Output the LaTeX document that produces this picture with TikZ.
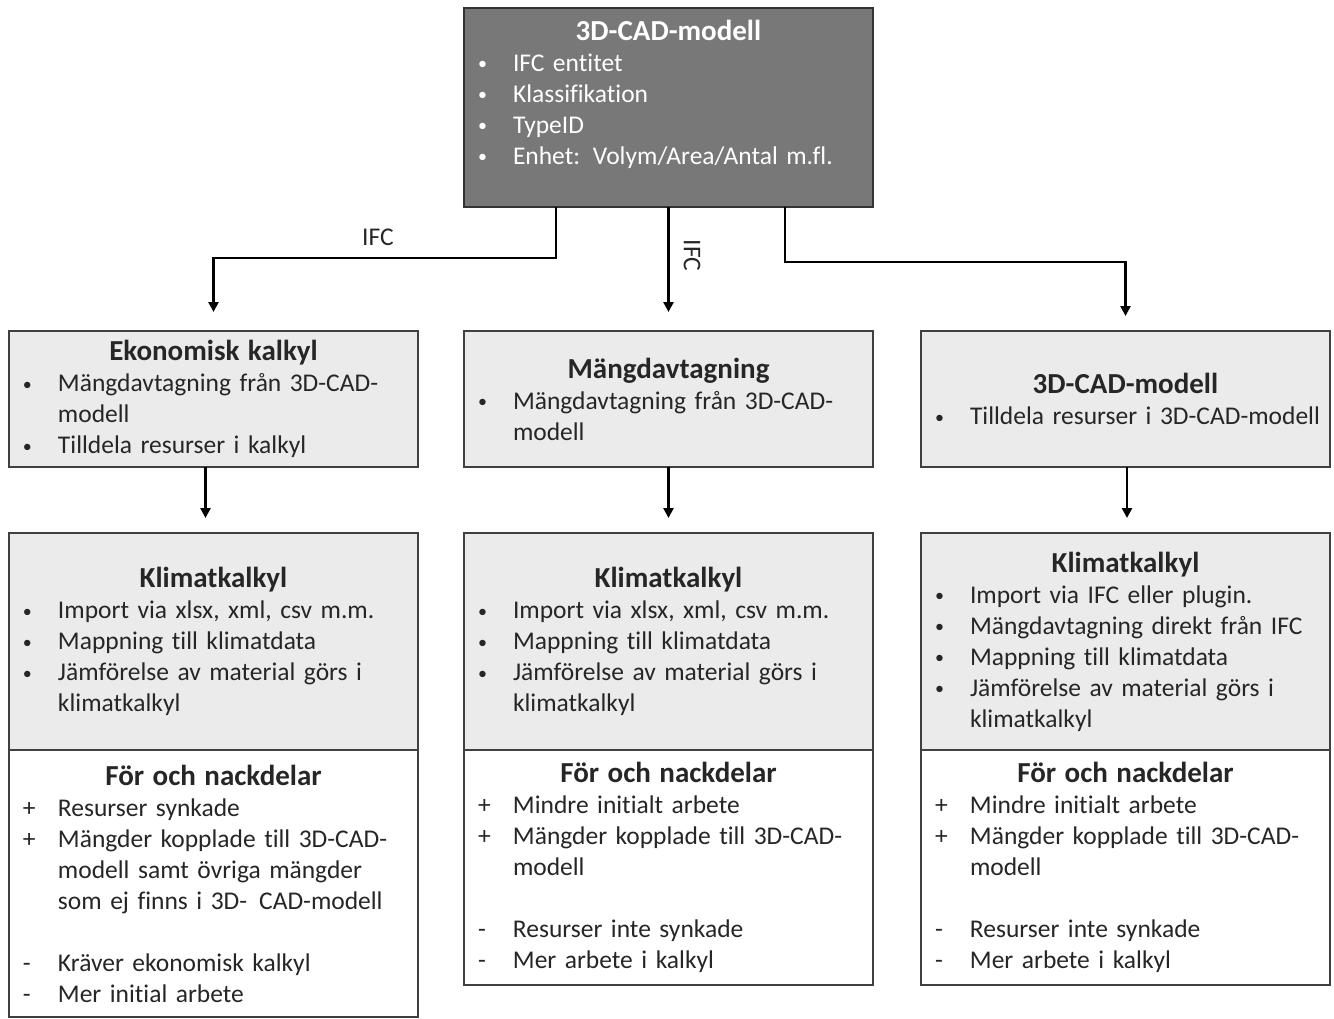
\documentclass[tikz,border=0pt]{standalone}
\usepackage{fontspec}
\setmainfont{Carlito}[Ligatures = NoCommon]
\usetikzlibrary{shapes.geometric, arrows.meta, positioning}
\definecolor{darkbox}{HTML}{787878}
\definecolor{lightbox}{HTML}{EBEBEB}
\definecolor{edge}{HTML}{404040}
\newcommand{\boxfont}{\fontsize{25.5}{31}\selectfont}
\newcommand{\head}[1]{{\centering\fontsize{29}{31}\selectfont\textbf{#1}\par}}
\newcommand{\bdot}{\raisebox{1.5pt}{\fontsize{18}{18}\selectfont •}}
\newcommand{\li}[2]{\par\noindent\makebox[35pt][l]{#1}\mbox{#2}}
\tikzstyle{block} = [rectangle, 
			draw = edge, 
			line width = 1.2pt, 
			fill = lightbox, 
			text = black!85, 
			text width = 381pt, 
			inner xsep = 14pt, 
			outer sep = 0pt, 
			minimum width = 409pt, 
			font = \boxfont]
\tikzstyle{dark} = [block, 
			fill = darkbox, 
			draw = black!80, 
			text = white]
\tikzstyle{plain} = [block, 
			fill = white]
\tikzstyle{arr} = [line width = 2.5pt, 
			-{Triangle[length = 10pt, width = 10pt]}]

\begin{document}
\begin{tikzpicture}[x = 1pt, y = -1pt, node distance = 46pt]
	\useasboundingbox (0,0) rectangle (1334,1018);
	\node [dark, minimum height = 199pt, anchor = north] (cadtop) at (668.5,8) {\head{3D-CAD-modell}\li{\bdot}{IFC entitet}\li{\bdot}{Klassifikation}\li{\bdot}{TypeID}\li{\bdot}{Enhet: Volym/Area/Antal m.fl.}\li{}{}};
	\node [block, minimum height = 136pt, below = 124pt of cadtop] (mangd) {\head{Mängdavtagning}\li{\bdot}{Mängdavtagning från 3D-CAD-}\li{}{modell}};
	\node [block, minimum height = 136pt, left = of mangd] (ekon) {\head{Ekonomisk kalkyl}\li{\bdot}{Mängdavtagning från 3D-CAD-}\li{}{modell}\li{\bdot}{Tilldela resurser i kalkyl}};
	\node [block, minimum height = 136pt, right = 48pt of mangd] (cadres) {\head{3D-CAD-modell}\li{\bdot}{Tilldela resurser i 3D-CAD-modell}};
	\node [block, minimum height = 217pt, below = 66pt of ekon] (klim1) {\head{Klimatkalkyl}\li{\bdot}{Import via xlsx, xml, csv m.m.}\li{\bdot}{Mappning till klimatdata}\li{\bdot}{Jämförelse av material görs i}\li{}{klimatkalkyl}};
	\node [block, minimum height = 217pt, below = 66pt of mangd] (klim2) {\head{Klimatkalkyl}\li{\bdot}{Import via xlsx, xml, csv m.m.}\li{\bdot}{Mappning till klimatdata}\li{\bdot}{Jämförelse av material görs i}\li{}{klimatkalkyl}};
	\node [block, minimum height = 217pt, below = 66pt of cadres] (klim3) {\head{Klimatkalkyl}\li{\bdot}{Import via IFC eller plugin.}\li{\bdot}{Mängdavtagning direkt från IFC}\li{\bdot}{Mappning till klimatdata}\li{\bdot}{Jämförelse av material görs i}\li{}{klimatkalkyl}};
	\node [plain, minimum height = 267pt, below = 0pt of klim1] (for1) {\head{För och nackdelar}\li{+}{Resurser synkade}\li{+}{Mängder kopplade till 3D-CAD-}\li{}{modell samt övriga mängder}\li{}{som ej finns i 3D-\hspace{12pt}CAD-modell}\li{}{}\li{-}{Kräver ekonomisk kalkyl}\li{-}{Mer initial arbete}};
	\node [plain, minimum height = 235pt, below = 0pt of klim2] (for2) {\head{För och nackdelar}\li{+}{Mindre initialt arbete}\li{+}{Mängder kopplade till 3D-CAD-}\li{}{modell}\li{}{}\li{-}{Resurser inte synkade}\li{-}{Mer arbete i kalkyl}};
	\node [plain, minimum height = 235pt, below = 0pt of klim3] (for3) {\head{För och nackdelar}\li{+}{Mindre initialt arbete}\li{+}{Mängder kopplade till 3D-CAD-}\li{}{modell}\li{}{}\li{-}{Resurser inte synkade}\li{-}{Mer arbete i kalkyl}};
	\draw [arr, shorten >= 19pt] ([xshift = -112.5pt]cadtop.south) -- ++(0,51) -| node [pos = 0.26, above = 8pt, font = \boxfont, text = black!85] {IFC} (ekon.north);
	\draw [arr, shorten >= 19pt] (cadtop.south) -- node [pos = 0.39, rotate = -90, anchor = south, inner ysep = 14pt, font = \boxfont, text = black!85] {IFC} (mangd.north);
	\draw [arr, shorten >= 15pt] ([xshift = 116.5pt]cadtop.south) -- ++(0,55) -| (cadres.north);
	\draw [arr, shorten >= 15pt] ([xshift = -8pt]ekon.south) -- ([xshift = -8pt]klim1.north);
	\draw [arr, shorten >= 15pt] (mangd.south) -- (klim2.north);
	\draw [arr, shorten >= 15pt] ([xshift = 1.5pt]cadres.south) -- ([xshift = 1.5pt]klim3.north);
\end{tikzpicture}
\end{document}
